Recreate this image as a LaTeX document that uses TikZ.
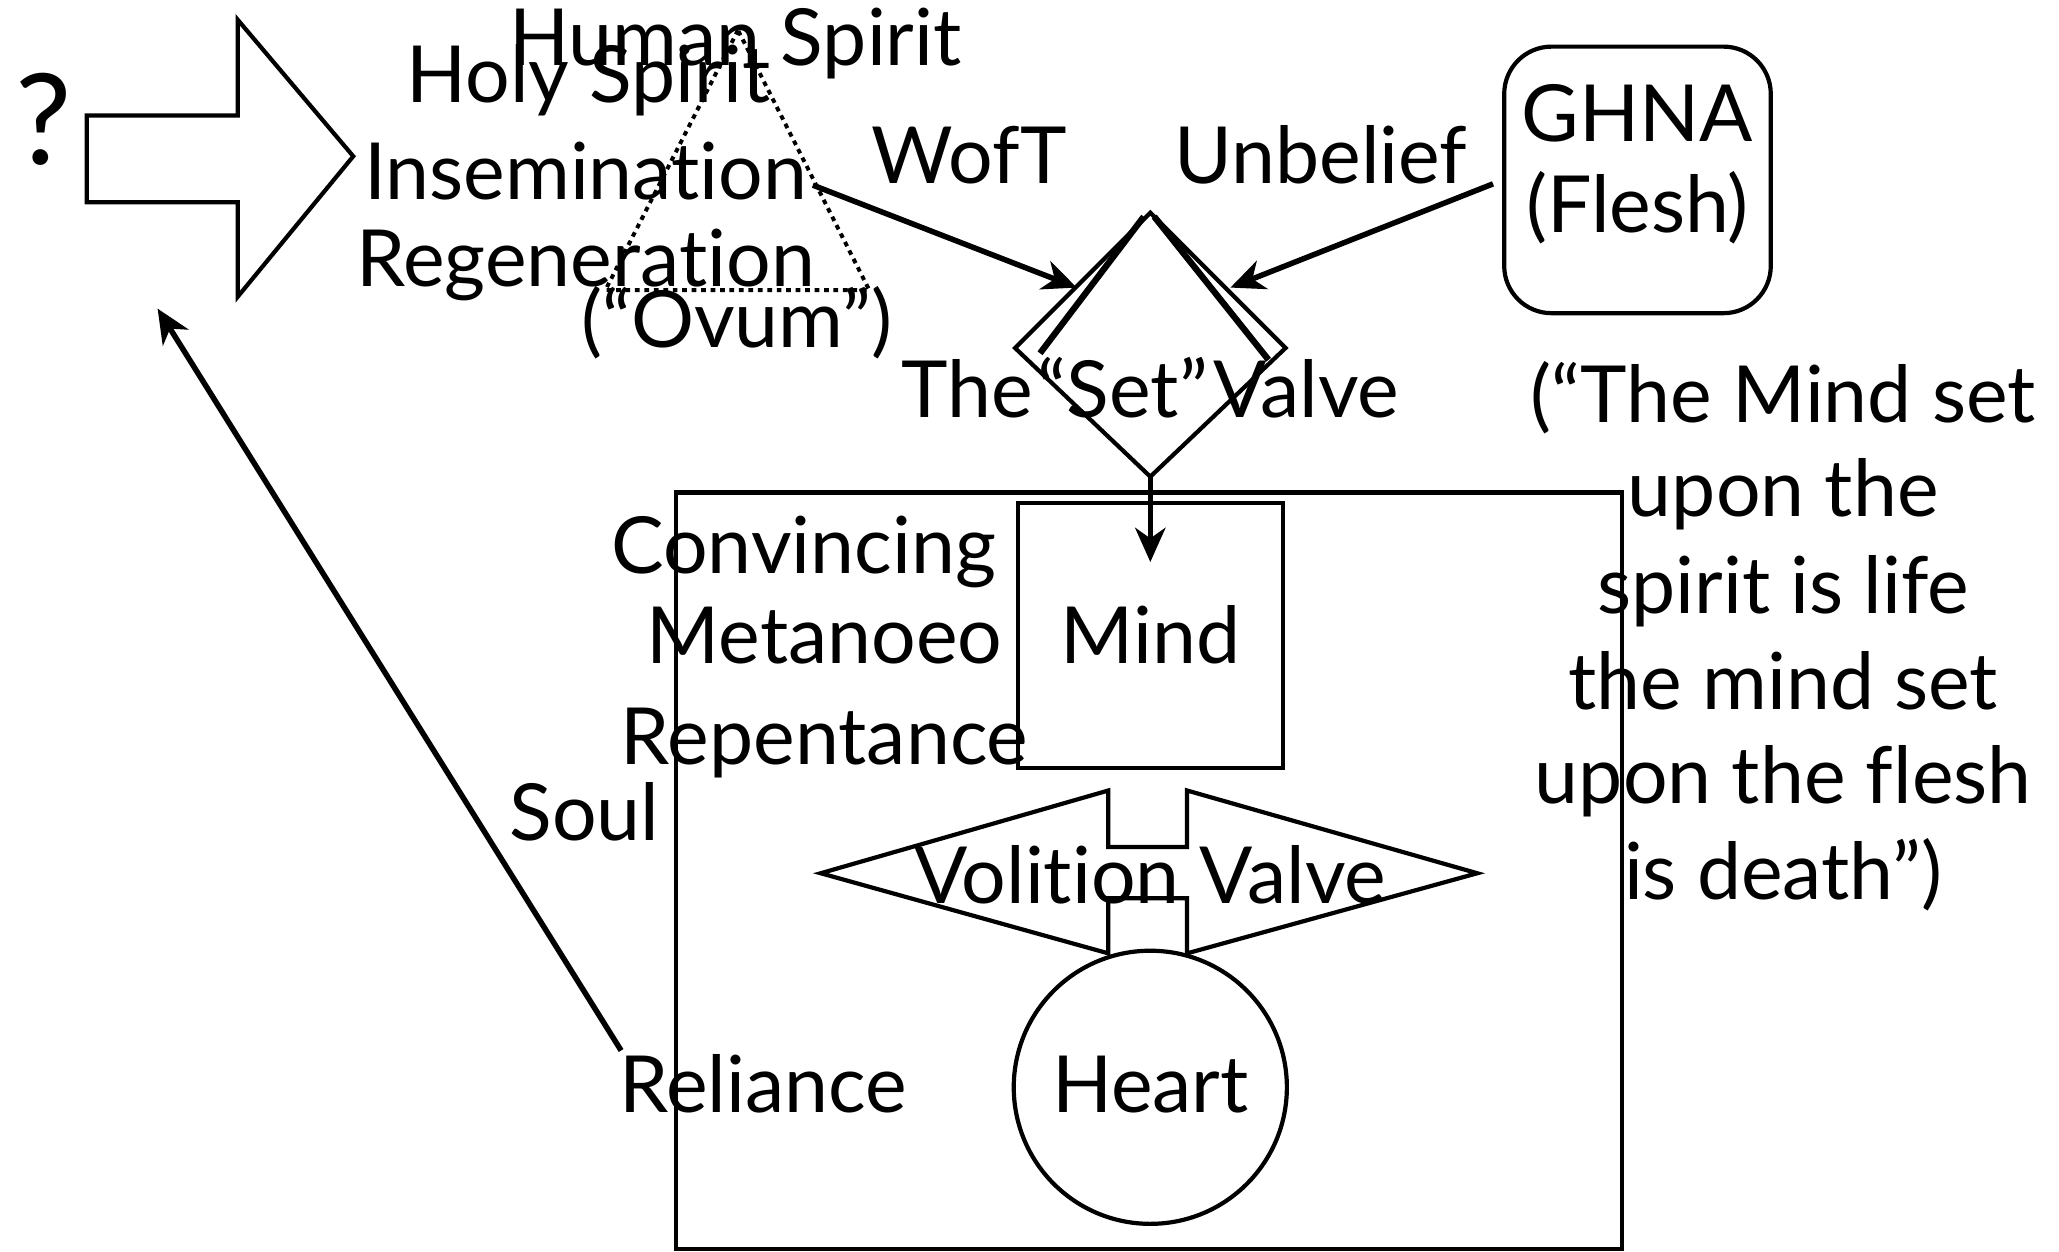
\documentclass[tikz,border=0pt]{standalone}
\usepackage{fontspec}
\setmainfont[RawFeature={-liga;-calt;-dlig;-clig}]{Lato}
\usetikzlibrary{arrows.meta,shapes.geometric}
\newcommand{\nolig}{\kern0pt\relax}
\begin{document}
\begin{tikzpicture}[x=0.5pt,y=-0.5pt,line join=miter,
  txt/.style={font=\fontsize{30}{36}\selectfont,inner sep=0pt,anchor=base},
  ln/.style={line width=1.6pt},
  flap/.style={line width=2.4pt},
  arr/.style={line width=2.1pt,-{Stealth[length=13pt,width=11.5pt,inset=4pt]}},
  dots/.style={line width=1.5pt,dash pattern=on 1.8pt off 1.8pt}]
\useasboundingbox (0,0) rectangle (1568,953);
% question mark and big arrow
\node[txt,font=\fontsize{48}{50}\selectfont] (q) at (33,125) {?};
\draw[ln] (66,88) -- (181,88) -- (181,15) -- (269,119) -- (181,226) -- (181,154) -- (66,154) -- cycle;
\coordinate (bigarrow) at (120,235);
% dotted triangle
\draw[dots] (562,23) -- (461,221) -- (662,221) -- cycle;
% top-left texts
\node[txt] (human) at (560,50) {Human Spirit};
\node[txt] (holy) at (448,78) {Holy Spirit};
\node[txt] (insem) at (446,152) {Inseminat\nolig ion};
\node[txt] (regen) at (446,218) {Regenerat\nolig ion};
\node[txt] (ovum) at (561,265) {(“Ovum”)};
\node[txt] (woft) at (738,140) {WofT};
\node[txt] (unbelief) at (1006,140) {Unbelief};
% GHNA box
\node[draw,ln,rounded corners=18pt,minimum width=101.5pt,minimum height=101.5pt] (ghna) at (1247,137) {};
\node[txt] (ghnat) at (1247,108) {GHNA};
\node[txt] (flesh) at (1247,177) {(Flesh)};
% set valve diamond
\draw[ln] (876,162) coordinate (dtop) -- (979,265) coordinate (dright) -- (876,363) coordinate (dbot) -- (773,265) coordinate (dleft) -- cycle;
\draw[flap] (871,165) -- (792,269);
\draw[flap] (879,165) -- (966,274);
\node[txt] (setv) at (876,318) {The\kern2pt“Set”\kern2pt Valve};
% arrows into valve
\coordinate (woftstart) at (619,141);
\coordinate (wofttip) at (820,219);
\coordinate (unbstart) at (1137,140);
\coordinate (unbtip) at (937,219);
\draw[arr] (woftstart) -- (wofttip);
\draw[arr] (unbstart) -- (unbtip);
% soul box
\draw[ln] (515,375) rectangle (1235,951);
% mind
\node[draw,ln,minimum width=101pt,minimum height=101pt,inner sep=0pt] (mind) at (876,484) {};
\node[txt] (mindt) at (876,505) {Mind};
\coordinate (mindin) at (876,428);
\draw[arr] (dbot) -- (mindin);
% volition valve
\draw[ln] (625,665) -- (844,602) -- (844,645) -- (904,645) -- (904,602) -- (1125,665)
  -- (904,726) -- (904,684) -- (844,684) -- (844,726) -- cycle;
\node[txt] (volt) at (876,688) {Volit\nolig ion Valve};
% heart
\node[draw,ln,circle,minimum size=104pt,inner sep=0pt] (heart) at (876,828) {};
\node[txt] (heartt) at (876,847) {Heart};
% left texts
\node[txt] (conv) at (612,437) {Convincing};
\node[txt] (meta) at (628,505) {Metanoeo};
\node[txt] (rep) at (628,582) {Repentance};
\node[txt] (soul) at (445,640) {Soul};
\node[txt] (rel) at (581,847) {Reliance};
\coordinate (relstart) at (473,800);
\draw[arr] (relstart) -- (bigarrow);
% quote
\node[txt] (qa) at (1358,322) {(“The Mind set};
\node[txt] (qb) at (1358,393) {upon the};
\node[txt] (qc) at (1358,467) {spirit is life};
\node[txt] (qd) at (1358,540) {the mind set};
\node[txt] (qe) at (1358,612) {upon the flesh};
\node[txt] (qf) at (1358,685) {is death”)};
\end{tikzpicture}
\end{document}
